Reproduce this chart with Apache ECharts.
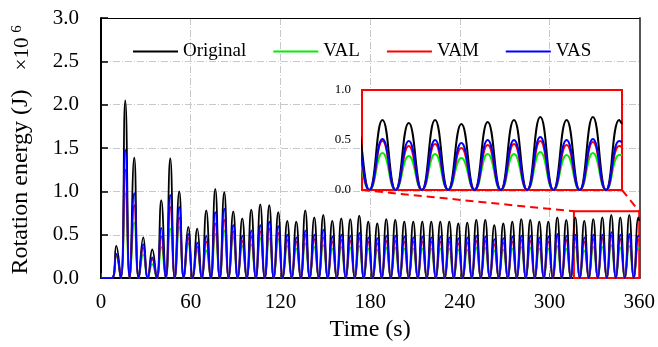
<!DOCTYPE html>
<html>
<head>
<meta charset="utf-8">
<script src="https://cdn.jsdelivr.net/npm/echarts@6/dist/echarts.min.js"></script>
<style>
  html, body { margin: 0; padding: 0; background: #fff; }
  #chart { width: 658px; height: 347px; }
</style>
</head>
<body>
<div id="chart"></div>
<script>
// peak energy of every swing (x10^6 J); troughs go back to 0
const firstPeakTime = 10.2
const swingPeriod = 6.02
const seriesNames = ['Original', 'VAL', 'VAM', 'VAS']
const seriesColors = ['#000000', '#00ee00', '#ff0000', '#0000ff']

const originalPeaks = [
  0.37, 2.05, 1.39, 0.47, 0.33, 0.90, 1.38, 1.00, 0.59, 0.57, 0.78, 1.03, 0.99, 0.77, 0.69, 0.79, 0.85, 0.84, 0.76,
  0.66, 0.65, 0.78, 0.70, 0.73, 0.66, 0.69, 0.68, 0.72, 0.65, 0.63, 0.68, 0.67, 0.65, 0.65,
  0.65, 0.65, 0.65, 0.65, 0.63, 0.64, 0.67, 0.67, 0.61, 0.63, 0.65, 0.68, 0.67, 0.65, 0.65,
  0.70, 0.67, 0.70, 0.66, 0.68, 0.70, 0.73, 0.70, 0.73, 0.70,
]
const valPeaks = [
  0.25, 0.98, 0.64, 0.27, 0.16, 0.36, 0.57, 0.59, 0.40, 0.32, 0.32, 0.51, 0.55, 0.47, 0.37, 0.39, 0.46, 0.46, 0.45,
  0.37, 0.34, 0.40, 0.36, 0.38, 0.34, 0.36, 0.35, 0.37, 0.34, 0.33, 0.35, 0.35, 0.34, 0.34,
  0.34, 0.34, 0.34, 0.34, 0.33, 0.33, 0.35, 0.35, 0.32, 0.33, 0.34, 0.36, 0.35, 0.34, 0.34,
  0.37, 0.34, 0.36, 0.32, 0.36, 0.36, 0.38, 0.35, 0.37, 0.35,
]
const vamPeaks = [
  0.27, 1.25, 0.84, 0.35, 0.22, 0.48, 0.82, 0.70, 0.46, 0.36, 0.42, 0.63, 0.67, 0.54, 0.43, 0.48, 0.54, 0.57, 0.52,
  0.44, 0.42, 0.50, 0.45, 0.47, 0.42, 0.44, 0.43, 0.46, 0.42, 0.40, 0.43, 0.43, 0.42, 0.42,
  0.42, 0.42, 0.42, 0.42, 0.40, 0.41, 0.43, 0.43, 0.39, 0.41, 0.42, 0.44, 0.43, 0.42, 0.42,
  0.49, 0.44, 0.46, 0.42, 0.45, 0.46, 0.49, 0.45, 0.48, 0.44,
]
const vasPeaks = [
  0.28, 1.48, 0.98, 0.39, 0.24, 0.58, 0.96, 0.82, 0.51, 0.41, 0.49, 0.76, 0.80, 0.61, 0.49, 0.55, 0.61, 0.65, 0.60,
  0.50, 0.47, 0.55, 0.50, 0.56, 0.48, 0.50, 0.49, 0.52, 0.47, 0.46, 0.49, 0.49, 0.48, 0.47,
  0.48, 0.47, 0.48, 0.47, 0.46, 0.47, 0.49, 0.48, 0.45, 0.46, 0.48, 0.49, 0.49, 0.47, 0.48,
  0.51, 0.49, 0.50, 0.47, 0.50, 0.50, 0.53, 0.50, 0.51, 0.49,
]
// values at t = 360 s, where the record stops just after the last peak
const endValues = [0.66, 0.35, 0.43, 0.48]

// zoomed window: red box in the main plot and the range shown in the inset
const zoomBoxTime = [316.3, 360]
const zoomBoxEnergy = [0, 0.77]
const insetTime = [300.5, 360]

function buildCurve(peaks, endValue) {
  const pts = [[0, 0], [firstPeakTime - swingPeriod / 2, 0]]
  peaks.forEach((p, i) => {
    const t = firstPeakTime + i * swingPeriod
    pts.push([t, p])
    if (i < peaks.length - 1)
      pts.push([t + swingPeriod / 2, 0])
  })
  pts.push([360, endValue])
  return pts
}

const curves = [originalPeaks, valPeaks, vamPeaks, vasPeaks].map((p, i) => buildCurve(p, endValues[i]))

const font = 'Liberation Serif'
const gridDash = [7, 2, 1, 2]

const series = []
curves.forEach((data, i) => {
  series.push({
    name: seriesNames[i],
    type: 'line',
    xAxisIndex: 0,
    yAxisIndex: 0,
    data,
    smooth: 0.5,
    showSymbol: false,
    lineStyle: { color: seriesColors[i], width: 1.8 },
    itemStyle: { color: seriesColors[i] },
    z: 2,
  })
})
curves.forEach((data, i) => {
  series.push({
    name: seriesNames[i],
    type: 'line',
    xAxisIndex: 2,
    yAxisIndex: 2,
    data,
    smooth: 0.5,
    showSymbol: false,
    lineStyle: { color: seriesColors[i], width: 2 },
    itemStyle: { color: seriesColors[i] },
    z: 6,
  })
})
// red box marking the zoomed part
series[0].markArea = {
  silent: true,
  itemStyle: { color: 'rgba(0,0,0,0)', borderColor: '#ff0000', borderWidth: 2 },
  data: [[{ coord: [zoomBoxTime[0], zoomBoxEnergy[0]] }, { coord: [zoomBoxTime[1], zoomBoxEnergy[1]] }]],
}

const chart = echarts.init(document.getElementById('chart'))

chart.setOption({
  animation: false,
  backgroundColor: '#fff',
  grid: [
    { left: 101, right: 16, top: 18, bottom: 65 },
    {
      left: 362, top: 90, width: 260, height: 100, z: 4, show: true,
      backgroundColor: '#fff', borderColor: '#ff0000', borderWidth: 2,
    },
  ],
  legend: {
    left: 128,
    top: 37,
    icon: 'rect',
    itemWidth: 45,
    itemHeight: 2,
    itemGap: 27,
    data: seriesNames,
    textStyle: { fontFamily: font, fontSize: 19, color: '#000' },
  },
  xAxis: [
    {
      type: 'value', gridIndex: 0, min: 0, max: 360, interval: 60,
      name: 'Time (s)', nameLocation: 'middle', nameGap: 37,
      nameTextStyle: { fontFamily: font, fontSize: 24, color: '#000' },
      axisLine: { onZero: false, lineStyle: { color: '#000', width: 2 } },
      axisTick: { inside: true, length: 5, lineStyle: { color: '#444' } },
      axisLabel: { fontFamily: font, fontSize: 21, color: '#000', margin: 14 },
      splitLine: { show: true, lineStyle: { color: '#c8c8c8', type: gridDash, width: 1 } },
    },
    {
      type: 'value', gridIndex: 0, position: 'top', min: 0, max: 360,
      axisLine: { show: true, onZero: false, lineStyle: { color: '#000', width: 1 } },
      axisTick: { show: false }, axisLabel: { show: false }, splitLine: { show: false },
    },
    {
      type: 'value', gridIndex: 1, min: insetTime[0], max: insetTime[1], show: false,
      splitLine: { show: false },
    },
  ],
  yAxis: [
    {
      type: 'value', gridIndex: 0, min: 0, max: 3, interval: 0.5,
      axisLine: { show: true, onZero: false, lineStyle: { color: '#000', width: 2 } },
      axisTick: { show: true, inside: true, length: 7, lineStyle: { color: '#000', width: 1.5 } },
      axisLabel: { fontFamily: font, fontSize: 21, color: '#000', margin: 22, formatter: v => v.toFixed(1) },
      splitLine: { show: true, lineStyle: { color: '#c8c8c8', type: gridDash, width: 1 } },
    },
    {
      type: 'value', gridIndex: 0, position: 'right', min: 0, max: 3,
      axisLine: { show: true, onZero: false, lineStyle: { color: '#555', width: 2 } },
      axisTick: { show: false }, axisLabel: { show: false }, splitLine: { show: false },
    },
    {
      type: 'value', gridIndex: 1, min: 0, max: 1, interval: 0.5, z: 5,
      axisLine: { show: false }, axisTick: { show: false },
      axisLabel: { fontFamily: font, fontSize: 13, color: '#000', margin: 11, formatter: v => v.toFixed(1) },
      splitLine: { show: false },
    },
  ],
  series,
})

// axis title, multiplier and the dashed connectors from the red box to the inset
const boxLeftTop = chart.convertToPixel({ xAxisIndex: 0, yAxisIndex: 0 }, [zoomBoxTime[0], zoomBoxEnergy[1]])
const boxRightTop = chart.convertToPixel({ xAxisIndex: 0, yAxisIndex: 0 }, [zoomBoxTime[1], zoomBoxEnergy[1]])
const insetLeftBottom = chart.convertToPixel({ xAxisIndex: 2, yAxisIndex: 2 }, [insetTime[0], 0])
const insetRightBottom = chart.convertToPixel({ xAxisIndex: 2, yAxisIndex: 2 }, [insetTime[1], 0])

const dashStyle = { stroke: '#ff0000', lineWidth: 2, lineDash: [8, 5] }

chart.setOption({
  graphic: [
    {
      type: 'text', x: 21, y: 182, rotation: Math.PI / 2, z: 10,
      style: { text: 'Rotation energy (J)', font: `24px "${font}"`, fill: '#000', textAlign: 'center', textVerticalAlign: 'middle' },
    },
    {
      type: 'text', x: 22, y: 54, rotation: Math.PI / 2, z: 10,
      style: { text: '×10', font: `21px "${font}"`, fill: '#000', textAlign: 'center', textVerticalAlign: 'middle' },
    },
    {
      type: 'text', x: 17, y: 29, rotation: Math.PI / 2, z: 10,
      style: { text: '6', font: `15px "${font}"`, fill: '#000', textAlign: 'center', textVerticalAlign: 'middle' },
    },
    {
      type: 'line', z: 10, silent: true,
      shape: { x1: insetLeftBottom[0], y1: insetLeftBottom[1], x2: boxLeftTop[0], y2: boxLeftTop[1] },
      style: dashStyle,
    },
    {
      type: 'line', z: 10, silent: true,
      shape: { x1: insetRightBottom[0], y1: insetRightBottom[1], x2: boxRightTop[0], y2: boxRightTop[1] },
      style: dashStyle,
    },
  ],
})
</script>
</body>
</html>
